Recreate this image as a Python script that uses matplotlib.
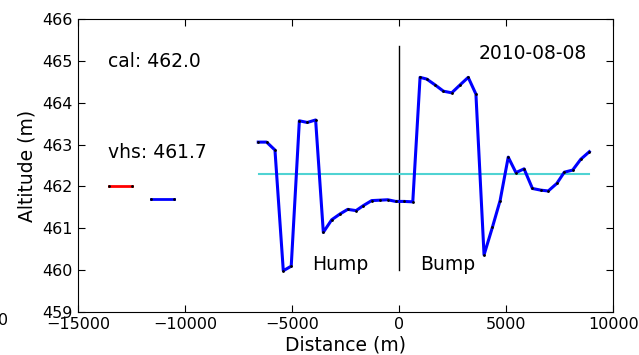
import numpy as np
import matplotlib
matplotlib.use('Agg')
import matplotlib.pyplot as plt

# profile along the track (distance in m, altitude in m)
dist = [-6590, -6200, -5810, -5420, -5050, -4670, -4300, -3910, -3550, -3160,
        -2770, -2410, -2020, -1680, -1290, -900, -540, -170, 220, 630,
        970, 1280, 1670, 2060, 2450, 2840, 3220, 3580, 3960, 4350,
        4710, 5090, 5450, 5830, 6220, 6610, 6960, 7360, 7710, 8100,
        8480, 8880]
alt = [463.06, 463.06, 462.87, 459.98, 460.09, 463.57, 463.53, 463.59, 460.90, 461.20,
       461.34, 461.45, 461.42, 461.54, 461.66, 461.67, 461.68, 461.64, 461.64, 461.63,
       464.61, 464.57, 464.43, 464.28, 464.24, 464.43, 464.61, 464.21, 460.36, 461.02,
       461.66, 462.70, 462.33, 462.42, 461.95, 461.91, 461.89, 462.07, 462.34, 462.39,
       462.65, 462.83]

cal_x = [-13550, -12500]
cal_alt = 462.0
vhs_x = [-11600, -10510]
vhs_alt = 461.7
ref_x = [-6540, 8870]
ref_alt = 462.29
center_alt = [460.0, 465.35]

fig = plt.figure(figsize=(6.39, 3.55), dpi=100)
ax = fig.add_axes([0.1225, 0.122, 0.8373, 0.8236])

ax.plot([0, 0], center_alt, color='k', lw=1)
ax.plot(ref_x, [ref_alt, ref_alt], color='#4fd3d3', lw=1.5)
ax.plot(cal_x, [cal_alt, cal_alt], color='r', lw=2, marker='.', ms=2, mec='k')
ax.plot(vhs_x, [vhs_alt, vhs_alt], color='b', lw=2, marker='.', ms=2, mec='k')
ax.plot(dist, alt, color='b', lw=2.2, marker='.', ms=2, mec='k')

ax.text(-13600, 465.0, 'cal: %.1f' % cal_alt, fontsize=13.5, va='center')
ax.text(-13600, 462.8, 'vhs: %.1f' % vhs_alt, fontsize=13.5, va='center')
ax.text(8760, 465.18, '2010-08-08', fontsize=13.5, va='center', ha='right')
ax.text(-4080, 460.12, 'Hump', fontsize=13.5, va='center')
ax.text(960, 460.12, 'Bump', fontsize=13.5, va='center')

ax.set_xlim(-15000, 10000)
ax.set_ylim(459, 466)
ax.set_xticks([-15000, -10000, -5000, 0, 5000, 10000])
ax.set_yticks(range(459, 467))
ax.tick_params(direction='in', top=True, right=True, labelsize=11.5, length=5, pad=4)
ax.set_xlabel('Distance (m)', fontsize=13.5, labelpad=2)
ax.set_ylabel('Altitude (m)', fontsize=13.5, labelpad=4)

# clipped leftover label at the left edge
fig.text(0.012, 0.096, '0', fontsize=11.5, ha='right', va='center')

fig.savefig('out.png', dpi=100, facecolor='white')
